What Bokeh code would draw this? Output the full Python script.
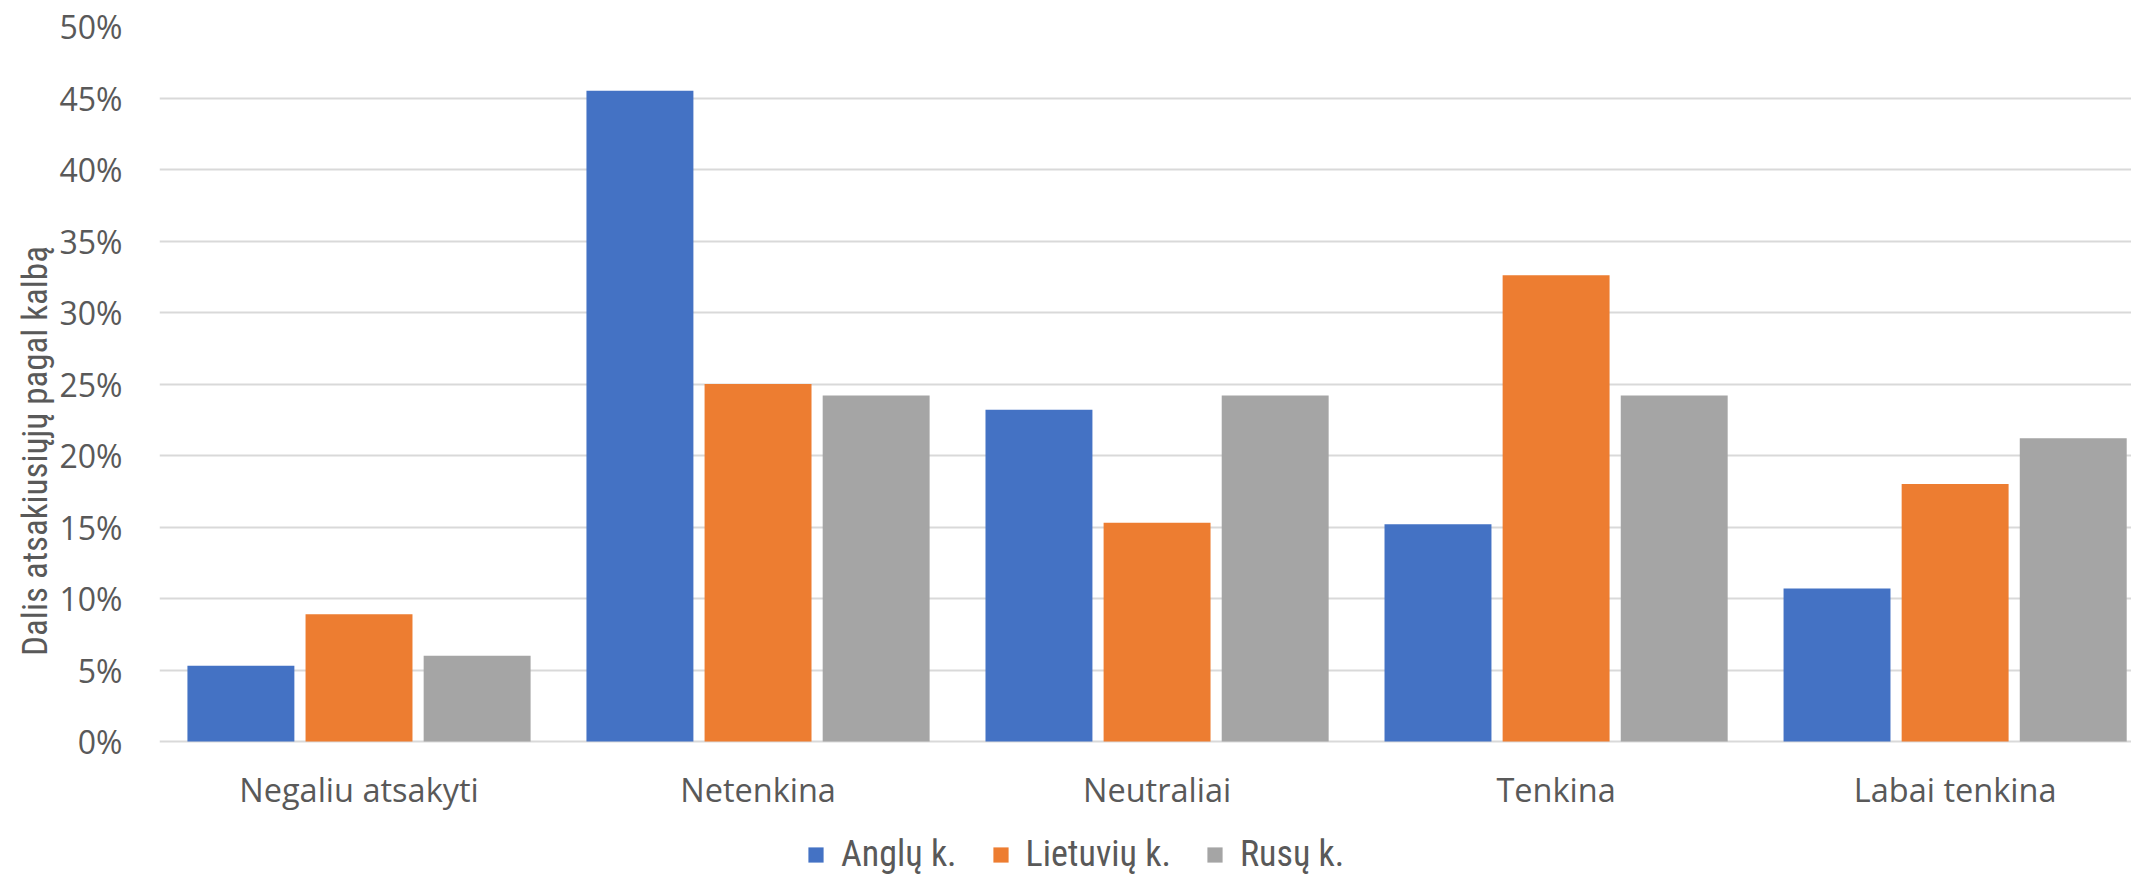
from bokeh.plotting import figure
from bokeh.models import Range1d, FixedTicker, NumeralTickFormatter, Legend, LegendItem, ColumnDataSource, Title
from bokeh.core.properties import value
from bokeh.embed import file_html
from bokeh.resources import INLINE

categories = ["Negaliu atsakyti", "Netenkina", "Neutraliai", "Tenkina", "Labai tenkina"]
series_names = ["Anglų k.", "Lietuvių k.", "Rusų k."]
anglu = [0.053, 0.455, 0.232, 0.152, 0.107]
lietuviu = [0.089, 0.250, 0.153, 0.326, 0.180]
rusu = [0.060, 0.242, 0.242, 0.242, 0.212]
colors = ["#4472C4", "#ED7D31", "#A5A5A5"]
y_ticks = [0, 0.05, 0.10, 0.15, 0.20, 0.25, 0.30, 0.35, 0.40, 0.45, 0.50]
y_title = "Dalis atsakiusiųjų pagal kalbą"

TICK_FONT = "Open Sans"
NARROW_FONT = "Liberation Sans Narrow, Roboto Condensed, Lato"
TEXT_COLOR = "#595959"

# frame spans from top gap down to the window bottom; value 0 sits 134 px above the bottom
Y_MIN = -134 / 1430.0
LABEL_Y = -48 / 1430.0

p = figure(frame_width=1972, frame_height=849, output_backend="svg", toolbar_location=None,
           x_range=Range1d(0, 4.942), y_range=Range1d(Y_MIN, 0.5),
           min_border_left=159, min_border_right=0, min_border_top=26, min_border_bottom=0)
p.outline_line_color = None
p.background_fill_color = "white"
p.border_fill_color = "white"

centers = [i + 0.5 for i in range(len(categories))]
offsets = [-0.296, 0.0, 0.296]
bar_w = 0.268
renderers = []
for vals, off, col in zip([anglu, lietuviu, rusu], offsets, colors):
    src = ColumnDataSource(dict(x=[c + off for c in centers], top=vals))
    r = p.vbar(x="x", top="top", bottom=0, width=bar_w, source=src,
               fill_color=col, line_color=None)
    renderers.append(r)

# category labels
cat_src = ColumnDataSource(dict(x=centers, y=[LABEL_Y] * len(categories), text=categories))
p.text(x="x", y="y", text="text", source=cat_src, text_align="center", text_baseline="middle",
       text_font=value(TICK_FONT), text_font_size=value("32.5px"), text_color=TEXT_COLOR)

p.xaxis.visible = False

p.yaxis.ticker = FixedTicker(ticks=y_ticks)
p.yaxis.formatter = NumeralTickFormatter(format="0%")
p.yaxis.axis_line_color = None
p.yaxis.major_tick_line_color = None
p.yaxis.minor_tick_line_color = None
p.yaxis.major_label_standoff = 31
p.yaxis.major_label_text_font = TICK_FONT
p.yaxis.major_label_text_font_size = "32px"
p.yaxis.major_label_text_color = TEXT_COLOR

t = Title(text=y_title, align="center", offset=117, standoff=2,
          text_font=NARROW_FONT, text_font_size="35px", text_font_style="normal",
          text_color=TEXT_COLOR)
p.add_layout(t, "left")

p.xgrid.grid_line_color = None
p.ygrid.ticker = FixedTicker(ticks=y_ticks)
p.ygrid.grid_line_color = "#D9D9D9"
p.ygrid.grid_line_width = 2

legend = Legend(items=[LegendItem(label=n, renderers=[r]) for n, r in zip(series_names, renderers)],
                orientation="horizontal", location=(647, 0))
legend.label_text_font = NARROW_FONT
legend.label_text_font_size = "36px"
legend.label_text_color = TEXT_COLOR
legend.glyph_width = 19
legend.glyph_height = 19
legend.label_standoff = 16
legend.spacing = 34
legend.padding = 0
legend.margin = 0
legend.border_line_color = None
legend.background_fill_alpha = 0
p.add_layout(legend, "center")

open("out.html", "w").write(file_html(p, INLINE))
